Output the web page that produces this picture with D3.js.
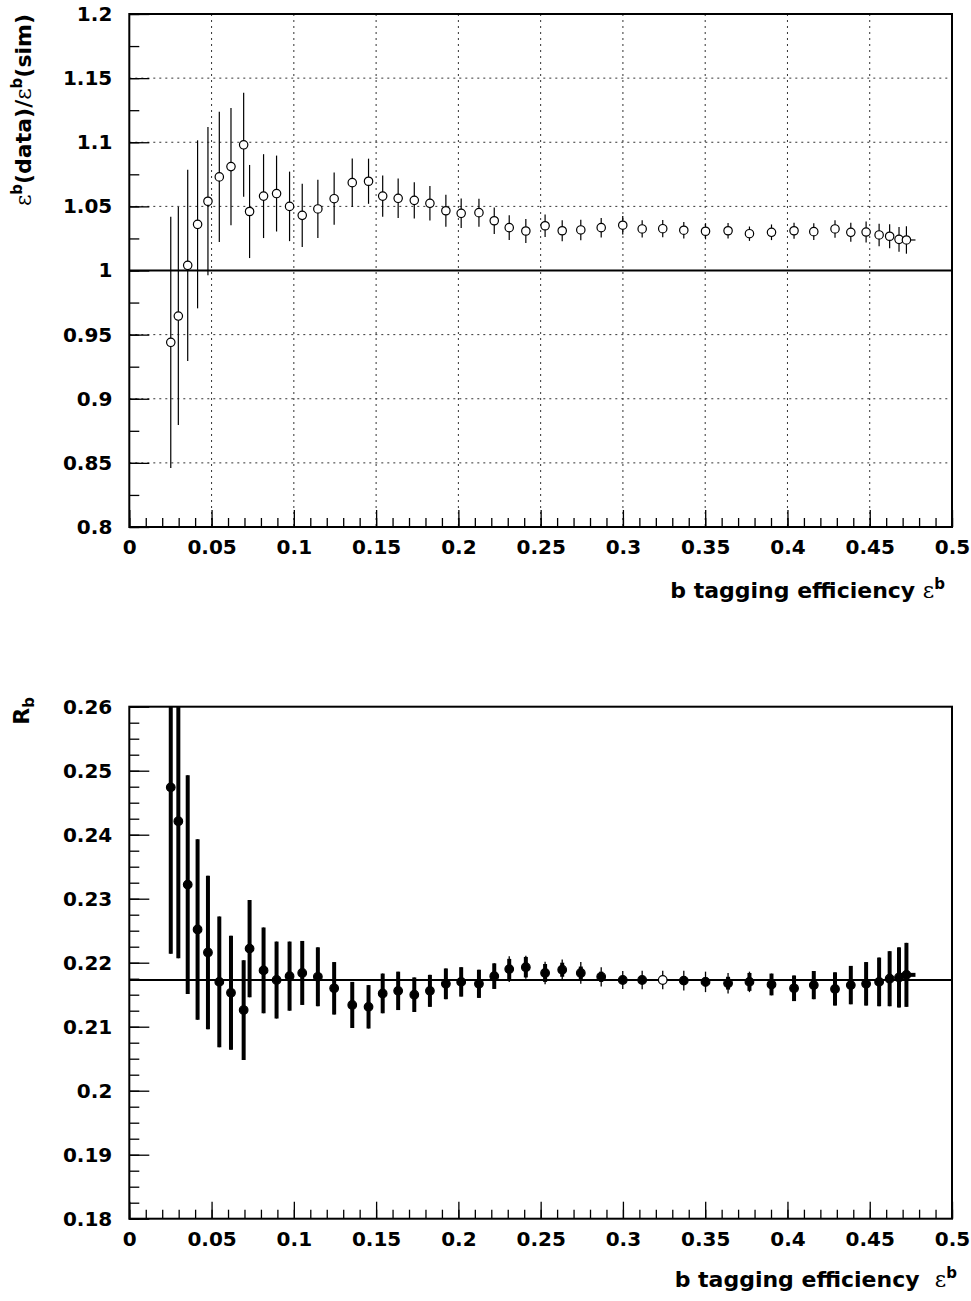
<!DOCTYPE html>
<html>
<head>
<meta charset="utf-8">
<script src="https://cdn.jsdelivr.net/npm/d3@7"></script>
<style>
  html, body { margin: 0; padding: 0; background: #fff; }
  svg text { font-family: "DejaVu Sans", "Liberation Sans", Arial, sans-serif; font-weight: bold; }
</style>
</head>
<body>
<svg id="chart" width="971" height="1301"></svg>
<script>
// ---------------- DATA ----------------
const effB = [0.0252, 0.0298, 0.0355, 0.0415, 0.0478, 0.0547, 0.0618, 0.0695, 0.0731, 0.0816,
  0.0895, 0.0974, 0.1051, 0.1146, 0.1245, 0.1355, 0.1454, 0.1540, 0.1634, 0.1732,
  0.1827, 0.1924, 0.2017, 0.2125, 0.2218, 0.2309, 0.2410, 0.2527, 0.2631, 0.2744,
  0.2868, 0.2999, 0.3117, 0.3242, 0.3370, 0.3502, 0.3639, 0.3769, 0.3903, 0.4040,
  0.4160, 0.4289, 0.4385, 0.4478, 0.4557, 0.4621, 0.4678, 0.4723];

const effRatio = [0.944, 0.9645, 1.004, 1.036, 1.054, 1.073, 1.081, 1.098, 1.046, 1.058,
  1.060, 1.050, 1.043, 1.048, 1.056, 1.0685, 1.0696, 1.058, 1.0563, 1.0547,
  1.0524, 1.0466, 1.0446, 1.0451, 1.0388, 1.0334, 1.0308, 1.0349, 1.031, 1.0316,
  1.0334, 1.0353, 1.0324, 1.0326, 1.0314, 1.0306, 1.031, 1.0287, 1.0298, 1.031,
  1.0303, 1.0324, 1.0298, 1.030, 1.0277, 1.0267, 1.0243, 1.0238];

const effRatioErr = [0.098, 0.085, 0.0745, 0.0655, 0.0578, 0.0507, 0.0457, 0.0405, 0.0363, 0.0327,
  0.0296, 0.0271, 0.0246, 0.0227, 0.0204, 0.0189, 0.0176, 0.0161, 0.0154, 0.0142,
  0.0134, 0.0124, 0.0115, 0.0109, 0.0103, 0.0096, 0.0093, 0.0087, 0.0081, 0.0080,
  0.0076, 0.0072, 0.0067, 0.0067, 0.0064, 0.0063, 0.0060, 0.0056, 0.0061, 0.0063,
  0.0066, 0.0068, 0.0074, 0.0082, 0.0087, 0.0094, 0.0097, 0.0107];

const rb = [0.2474, 0.2421, 0.2322, 0.2252, 0.2216, 0.2170, 0.2153, 0.2126, 0.2222, 0.2188,
  0.2173, 0.2179, 0.2184, 0.2178, 0.2160, 0.2134, 0.2131, 0.2152, 0.2156, 0.2150,
  0.2156, 0.2167, 0.2170, 0.2167, 0.2179, 0.2190, 0.2193, 0.2184, 0.2189, 0.2184,
  0.2178, 0.2173, 0.2173, 0.2173, 0.2172, 0.2170, 0.2168, 0.2170, 0.2166, 0.2160,
  0.2165, 0.2159, 0.2165, 0.2167, 0.2170, 0.2175, 0.2177, 0.2181];

const rbErrTotal = [0.0260, 0.0214, 0.0171, 0.0141, 0.0120, 0.0102, 0.0089, 0.0078, 0.0076, 0.0067,
  0.0060, 0.0054, 0.0050, 0.0046, 0.0041, 0.0036, 0.0034, 0.0031, 0.0030, 0.0027,
  0.0025, 0.0024, 0.0023, 0.0022, 0.0020, 0.0020, 0.0018, 0.00175, 0.0016, 0.0017,
  0.0015, 0.0014, 0.00145, 0.00145, 0.00155, 0.0016, 0.0016, 0.0016, 0.0017, 0.0020,
  0.0022, 0.0026, 0.0030, 0.0034, 0.0038, 0.0043, 0.0047, 0.0050];

const rbErrThick = [0.0260, 0.0214, 0.0171, 0.0141, 0.0120, 0.0102, 0.0089, 0.0078, 0.0076, 0.0067,
  0.0060, 0.0054, 0.0050, 0.0046, 0.0041, 0.0036, 0.0034, 0.0031, 0.0030, 0.0027,
  0.0025, 0.0024, 0.0023, 0.0022, 0.0020, 0.0016, 0.0016, 0.0014, 0.0011, 0.0010,
  0.0008, 0.0005, 0.0004, 0.0003, 0.0005, 0.0007, 0.0010, 0.0014, 0.0017, 0.0020,
  0.0022, 0.0026, 0.0030, 0.0034, 0.0038, 0.0043, 0.0047, 0.0050];

// x half-width, only visible on the last point
const effBErr = [0, 0, 0, 0, 0, 0, 0, 0, 0, 0, 0, 0, 0, 0, 0, 0, 0, 0, 0, 0, 0, 0, 0, 0,
  0, 0, 0, 0, 0, 0, 0, 0, 0, 0, 0, 0, 0, 0, 0, 0, 0, 0, 0, 0, 0, 0, 0, 0.0055];

const rbReference = 0.2173;
const ratioReference = 1.0;

const xTicksMajor = [0, 0.05, 0.1, 0.15, 0.2, 0.25, 0.3, 0.35, 0.4, 0.45, 0.5];
const ratioTicksMajor = [0.8, 0.85, 0.9, 0.95, 1, 1.05, 1.1, 1.15, 1.2];
const rbTicksMajor = [0.18, 0.19, 0.2, 0.21, 0.22, 0.23, 0.24, 0.25, 0.26];

// ---------------- LAYOUT ----------------
const svg = d3.select("#chart");
svg.append("rect").attr("width", 971).attr("height", 1301).attr("fill", "#fff");

const frameL = 129.3, frameR = 952;
const top1 = 14, bot1 = 527;
const top2 = 706.7, bot2 = 1218.7;
const fontSize = 20;
const titleSize = 22;
const supSize = 15;
const FONT = "DejaVu Sans, Liberation Sans, Arial, sans-serif";

const x = d3.scaleLinear().domain([0, 0.5]).range([frameL, frameR]);
const yR = d3.scaleLinear().domain([0.8, 1.2]).range([bot1, top1]);
const yB = d3.scaleLinear().domain([0.18, 0.26]).range([bot2, top2]);

const fmt = d => String(+d.toFixed(3));
const range = (a, b, s) => d3.range(Math.round((b - a) / s) + 1).map(i => +(a + i * s).toFixed(5));

function styleText(a) {
  a.selectAll("text").attr("font-size", fontSize).attr("fill", "#000")
    .attr("font-family", FONT).attr("font-weight", "bold");
}

function drawAxes(g, y, yMajor, yMinorStep, bottom, topY) {
  g.append("g").attr("transform", `translate(0,${bottom})`)
    .call(d3.axisBottom(x).tickValues(range(0, 0.5, 0.01)).tickSize(-9).tickFormat(""))
    .call(a => a.select(".domain").remove());
  g.append("g").attr("transform", `translate(0,${bottom})`)
    .call(d3.axisBottom(x).tickValues(xTicksMajor).tickSize(-17).tickPadding(13).tickFormat(fmt))
    .call(a => a.select(".domain").remove())
    .call(styleText);
  const d = y.domain();
  g.append("g").attr("transform", `translate(${frameL},0)`)
    .call(d3.axisLeft(y).tickValues(range(d[0], d[1], yMinorStep)).tickSize(-10).tickFormat(""))
    .call(a => a.select(".domain").remove());
  g.append("g").attr("transform", `translate(${frameL},0)`)
    .call(d3.axisLeft(y).tickValues(yMajor).tickSize(-20).tickPadding(17).tickFormat(fmt))
    .call(a => a.select(".domain").remove())
    .call(styleText);
  g.selectAll(".tick line").attr("stroke", "#000").attr("stroke-width", 1.3);
  g.append("rect").attr("x", frameL).attr("y", topY).attr("width", frameR - frameL)
    .attr("height", bottom - topY).attr("fill", "none").attr("stroke", "#000").attr("stroke-width", 2);
}

// ---------------- TOP PANEL ----------------
const g1 = svg.append("g");
const grid1 = g1.append("g").attr("stroke", "#333").attr("stroke-width", 1).attr("stroke-dasharray", "2,4");
grid1.selectAll("line.v").data(xTicksMajor.slice(1, -1)).join("line")
  .attr("x1", d => x(d)).attr("x2", d => x(d)).attr("y1", top1).attr("y2", bot1);
grid1.selectAll("line.h").data(ratioTicksMajor.slice(1, -1)).join("line").attr("class", "h")
  .attr("x1", frameL).attr("x2", frameR).attr("y1", d => yR(d)).attr("y2", d => yR(d));

g1.append("line").attr("x1", frameL).attr("x2", frameR)
  .attr("y1", yR(ratioReference)).attr("y2", yR(ratioReference))
  .attr("stroke", "#000").attr("stroke-width", 2);

const pts1 = effB.map((e, i) => ({ x: e, y: effRatio[i], err: effRatioErr[i], xe: effBErr[i] }));
g1.append("g").selectAll("line").data(pts1).join("line")
  .attr("x1", d => x(d.x)).attr("x2", d => x(d.x))
  .attr("y1", d => yR(d.y + d.err)).attr("y2", d => yR(d.y - d.err))
  .attr("stroke", "#000").attr("stroke-width", 1.2);
g1.append("g").selectAll("line").data(pts1.filter(d => d.xe > 0)).join("line")
  .attr("x1", d => x(d.x - d.xe)).attr("x2", d => x(d.x + d.xe))
  .attr("y1", d => yR(d.y)).attr("y2", d => yR(d.y))
  .attr("stroke", "#000").attr("stroke-width", 1.2);
g1.append("g").selectAll("circle").data(pts1).join("circle")
  .attr("cx", d => x(d.x)).attr("cy", d => yR(d.y)).attr("r", 4.2)
  .attr("fill", "#fff").attr("stroke", "#000").attr("stroke-width", 1.2);

drawAxes(g1, yR, ratioTicksMajor, 0.025, bot1, top1);

// ---------------- BOTTOM PANEL ----------------
const g2 = svg.append("g");
svg.append("clipPath").attr("id", "clip2").append("rect")
  .attr("x", frameL).attr("y", top2).attr("width", frameR - frameL).attr("height", bot2 - top2);

g2.append("line").attr("x1", frameL).attr("x2", frameR)
  .attr("y1", yB(rbReference)).attr("y2", yB(rbReference))
  .attr("stroke", "#000").attr("stroke-width", 2);

const pts2 = effB.map((e, i) => ({ x: e, y: rb[i], et: rbErrTotal[i], ek: rbErrThick[i], xe: effBErr[i], i }));
const pg = g2.append("g").attr("clip-path", "url(#clip2)");
pg.append("g").selectAll("line").data(pts2).join("line")
  .attr("x1", d => x(d.x)).attr("x2", d => x(d.x))
  .attr("y1", d => yB(d.y + d.et)).attr("y2", d => yB(d.y - d.et))
  .attr("stroke", "#000").attr("stroke-width", 1.3);
pg.append("g").selectAll("line").data(pts2).join("line")
  .attr("x1", d => x(d.x)).attr("x2", d => x(d.x))
  .attr("y1", d => yB(d.y + d.ek)).attr("y2", d => yB(d.y - d.ek))
  .attr("stroke", "#000").attr("stroke-width", 4);
pg.append("g").selectAll("line").data(pts2.filter(d => d.xe > 0)).join("line")
  .attr("x1", d => x(d.x - d.xe)).attr("x2", d => x(d.x + d.xe))
  .attr("y1", d => yB(d.y)).attr("y2", d => yB(d.y))
  .attr("stroke", "#000").attr("stroke-width", 4);
const openIndex = 33;
pg.append("g").selectAll("circle").data(pts2).join("circle")
  .attr("cx", d => x(d.x)).attr("cy", d => yB(d.y)).attr("r", 4.3)
  .attr("fill", d => d.i === openIndex ? "#fff" : "#000")
  .attr("stroke", "#000").attr("stroke-width", 1.2);

drawAxes(g2, yB, rbTicksMajor, 0.0025, bot2, top2);

// ---------------- TITLES ----------------
function xTitle(xEnd, baseline, gap) {
  const t = svg.append("text").attr("x", xEnd).attr("y", baseline)
    .attr("text-anchor", "end").attr("font-size", titleSize).attr("fill", "#000");
  t.append("tspan").text("b tagging efficiency" + gap);
  t.append("tspan").attr("font-weight", "normal").attr("font-family", "DejaVu Serif, serif").text("ε");
  t.append("tspan").attr("font-size", supSize).attr("dy", -9).text("b");
}
xTitle(945, 598, " ");
xTitle(957, 1287, "\u00a0\u00a0");

const yt1 = svg.append("text").attr("transform", `translate(31,${top1}) rotate(-90)`)
  .attr("text-anchor", "end").attr("font-size", titleSize).attr("fill", "#000");
yt1.append("tspan").attr("font-weight", "normal").attr("font-family", "DejaVu Serif, serif").text("ε");
yt1.append("tspan").attr("font-size", supSize).attr("dy", -9).text("b");
yt1.append("tspan").attr("dy", 9).text("(data)/");
yt1.append("tspan").attr("font-weight", "normal").attr("font-family", "DejaVu Serif, serif").text("ε");
yt1.append("tspan").attr("font-size", supSize).attr("dy", -9).text("b");
yt1.append("tspan").attr("dy", 9).text("(sim)");

const yt2 = svg.append("text").attr("transform", `translate(29,697) rotate(-90)`)
  .attr("text-anchor", "end").attr("font-size", titleSize).attr("fill", "#000");
yt2.append("tspan").text("R");
yt2.append("tspan").attr("font-size", supSize).attr("dy", 5).text("b");
</script>
</body>
</html>
